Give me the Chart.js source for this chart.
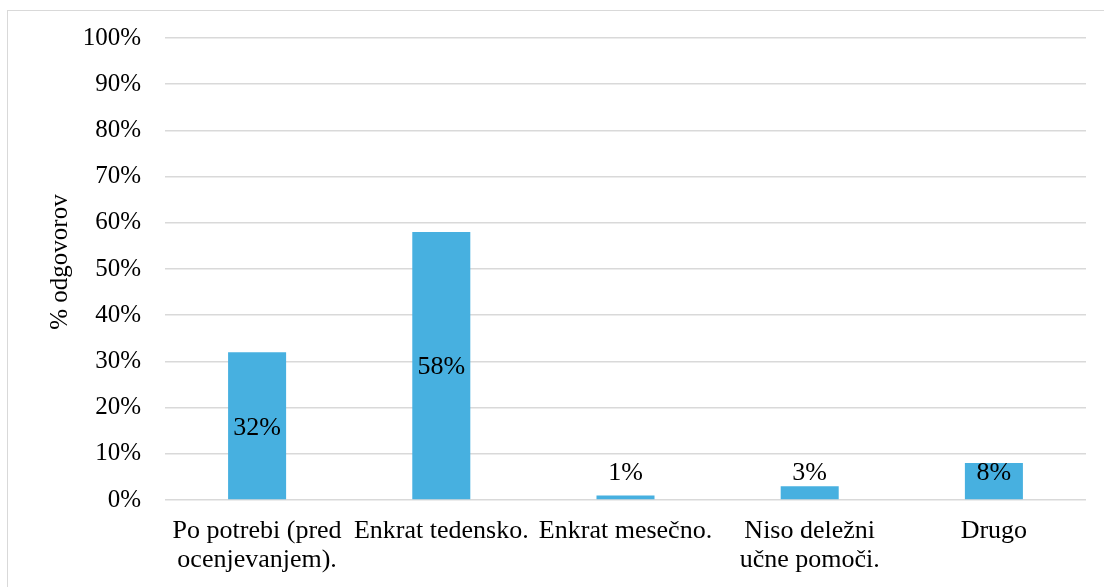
<!DOCTYPE html>
<html>
<head>
<meta charset="utf-8">
<script src="https://cdn.jsdelivr.net/npm/chart.js@4/dist/chart.umd.min.js"></script>
<style>
  body { margin: 0; background: #fff; overflow: hidden; }
  #wrap { position: relative; width: 1104px; height: 587px; }
  #frame { position: absolute; left: 7px; top: 10px; width: 1200px; height: 700px; border: 1px solid #d9d9d9; pointer-events: none; }
  canvas { position: absolute; left: 0; top: 0; }
</style>
</head>
<body>
<div id="wrap">
  <div id="frame"></div>
  <canvas id="chart" width="1104" height="587"></canvas>
</div>
<script>
// podatki
const categories = [
  ['Po potrebi (pred', 'ocenjevanjem).'],
  'Enkrat tedensko.',
  'Enkrat mesečno.',
  ['Niso deležni', 'učne pomoči.'],
  'Drugo'
]
const shares = [32, 58, 1, 3, 8]
const yTicks = [0, 10, 20, 30, 40, 50, 60, 70, 80, 90, 100]
const yTitle = '% odgovorov'

const serif = '"Liberation Serif", "Times New Roman", serif'

// oznake vrednosti nad / v stolpcih
const valueLabels = {
  id: 'valueLabels',
  afterDatasetsDraw(chart) {
    const ctx = chart.ctx
    const meta = chart.getDatasetMeta(0)
    const base = chart.scales.y.getPixelForValue(0)
    ctx.save()
    ctx.font = '26px ' + serif
    ctx.fillStyle = '#000'
    ctx.textAlign = 'center'
    meta.data.forEach((bar, i) => {
      const text = shares[i] + '%'
      const h = bar.base - bar.y
      if (h > 60) {
        ctx.textBaseline = 'middle'
        ctx.fillText(text, bar.x, (bar.y + bar.base) / 2 + 2)
      } else if (h > 30) {
        ctx.textBaseline = 'middle'
        ctx.fillText(text, bar.x, bar.y + 10)
      } else {
        ctx.textBaseline = 'alphabetic'
        ctx.fillText(text, bar.x, Math.min(bar.y - 6, base - 20))
      }
    })
    ctx.restore()
  }
}

// naslov osi y
const axisTitle = {
  id: 'axisTitle',
  afterDraw(chart) {
    const { ctx, chartArea } = chart
    ctx.save()
    ctx.font = '25px ' + serif
    ctx.fillStyle = '#000'
    ctx.textAlign = 'center'
    ctx.textBaseline = 'middle'
    ctx.translate(60, (chartArea.top + chartArea.bottom) / 2 - 7)
    ctx.rotate(-Math.PI / 2)
    ctx.fillText(yTitle, 0, 0)
    ctx.restore()
  }
}

new Chart(document.getElementById('chart'), {
  type: 'bar',
  data: {
    labels: categories,
    datasets: [{
      data: shares,
      backgroundColor: '#47B0E0',
      borderWidth: 0,
      barPercentage: 1,
      categoryPercentage: 0.315
    }]
  },
  options: {
    responsive: false,
    animation: false,
    layout: { padding: { top: 38, right: 18, left: 0, bottom: 0 } },
    plugins: {
      legend: { display: false },
      tooltip: { enabled: false }
    },
    scales: {
      x: {
        grid: { display: false, drawTicks: false },
        border: { display: false },
        ticks: {
          color: '#000',
          font: { family: serif, size: 26, lineHeight: 1.1 },
          padding: 17,
          maxRotation: 0,
          autoSkip: false
        },
        afterFit(scale) {
          scale.height = 87
          scale.paddingLeft = 0
          scale.paddingRight = 0
        }
      },
      y: {
        min: 0,
        max: 100,
        afterBuildTicks(scale) {
          scale.ticks = yTicks.map(v => ({ value: v }))
        },
        grid: { color: '#d9d9d9', lineWidth: 1.5, drawTicks: false },
        border: { display: false },
        ticks: {
          color: '#000',
          font: { family: serif, size: 25 },
          padding: 24,
          callback: v => v + '%'
        },
        afterFit(scale) {
          scale.width = 165
          scale.paddingTop = 0
          scale.paddingBottom = 0
        }
      }
    }
  },
  plugins: [valueLabels, axisTitle]
})
</script>
</body>
</html>
